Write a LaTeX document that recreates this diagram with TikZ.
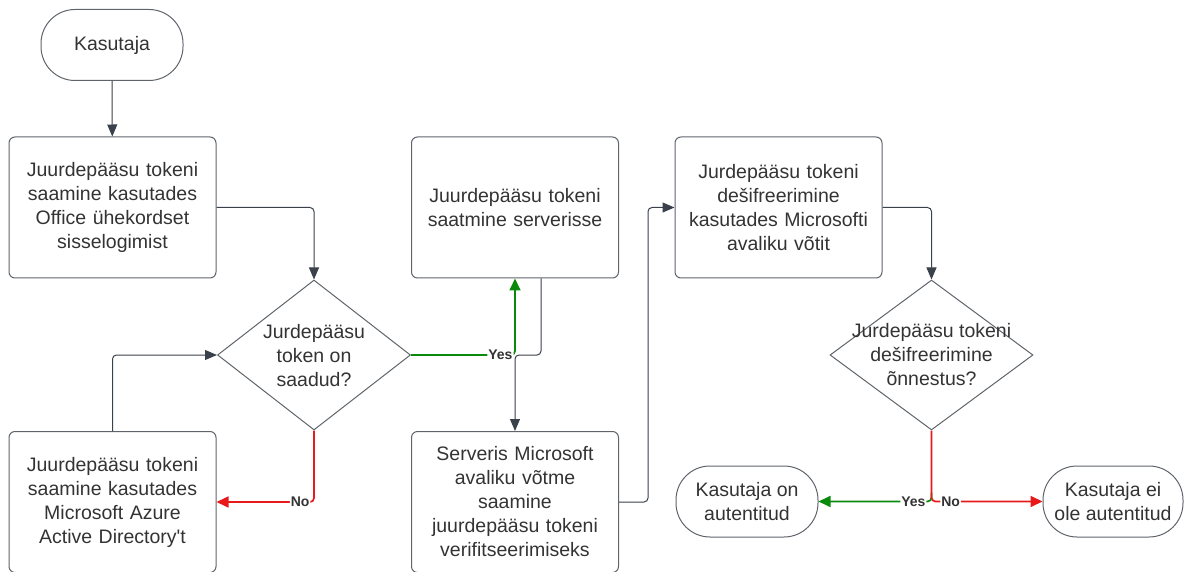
\documentclass[tikz,border=0pt]{standalone}
\usepackage{fontspec}
\setmainfont{Liberation Sans}
\usetikzlibrary{shapes.geometric,arrows.meta}
\definecolor{linegray}{HTML}{3A414A}
\definecolor{boxgray}{HTML}{5F646B}
\definecolor{yesgreen}{HTML}{0A8A0A}
\definecolor{nored}{HTML}{E8191B}
\definecolor{txtgray}{HTML}{333333}

\begin{document}
\begin{tikzpicture} [x=1pt,y=-1pt,
    every node/.style={font=\fontsize{19.5}{24}\selectfont,text=txtgray},
    stepbox/.style={draw=boxgray,line width=1pt,rounded corners=6pt,minimum width=207,minimum height=141,text width=200,align=center,inner sep=0pt},
    terminal/.style={draw=boxgray,line width=1pt,rounded corners=34pt,minimum width=142,minimum height=71,align=center,inner sep=0pt},
    decision/.style={draw=boxgray,line width=1pt,diamond,minimum width=193,minimum height=150,inner sep=0pt},
    flow/.style={draw=linegray,line width=1pt,rounded corners=4pt,-{Triangle[length=12pt,width=10pt]}},
    yesflow/.style={flow,draw=yesgreen,line width=1.7pt,-{Triangle[length=12pt,width=11pt]}},
    noflow/.style={flow,draw=nored,line width=1.7pt,-{Triangle[length=12pt,width=11pt]}},
    lbl/.style={fill=white,inner sep=1pt,text=txtgray,font=\bfseries\fontsize{14}{14}\selectfont}]
  \useasboundingbox (0,0) rectangle (1184,572);

  % left column
  \node [terminal] (user) at (112,45) {Kasutaja};
  \node [stepbox] (login) at (112.5,207.5) {Juurdepääsu tokeni\\saamine kasutades\\Office ühekordset\\sisselogimist};
  \node [decision] (token) at (314,355) {};
  \node [align=center] (tokentxt) at (314,356) {Jurdepääsu\\token on\\saadud?};
  \node [stepbox] (azure) at (112.5,502) {Juurdepääsu tokeni\\saamine kasutades\\Microsoft Azure\\Active Directory\textquotesingle t};

  % middle column
  \node [stepbox] (send) at (515,207.5) {Juurdepääsu tokeni\\saatmine serverisse};
  \node [stepbox] (verify) at (515,502) {Serveris Microsoft\\avaliku võtme\\saamine\\juurdepääsu tokeni\\verifitseerimiseks};

  % right column
  \node [stepbox] (decrypt) at (778.5,207.5) {Jurdepääsu tokeni\\dešifreerimine\\kasutades Microsofti\\avaliku võtit};
  \node [decision,minimum width=203] (success) at (931.5,355) {};
  \node [align=center] (successtxt) at (931.5,355) {Jurdepääsu tokeni\\dešifreerimine\\õnnestus?};
  \node [terminal] (authok) at (747,501.5) {Kasutaja on\\autentitud};
  \node [terminal,minimum width=140] (authfail) at (1113,501.5) {Kasutaja ei\\ole autentitud};

  \coordinate (split) at (515,355);
  \coordinate (fork) at ([yshift=-62pt]success.south);

  \draw [flow] (user) -- (login);
  \draw [flow] (login.east) -| (token.north);
  \draw [noflow] (token.south) |- (azure.east) node [lbl,pos=0.571] (no1) {No};
  \draw [flow] (azure.north) |- (token.west);
  \draw [yesflow] (token.east) -| (send.south) node [lbl,pos=0.43] (yes1) {Yes};
  \draw [flow] ([xshift=26pt]send.south) |- (split) -- (verify.north);
  \draw [flow] (verify.east) -- ++(29,0) |- (decrypt.west);
  \draw [flow] (decrypt.east) -| (success.north);
  \draw [yesflow] (fork) |- (authok.east) node [lbl,pos=0.58] (yes2) {Yes};
  \draw [noflow] (success.south) |- (authfail.west) node [lbl,pos=0.586] (no2) {No};

\end{tikzpicture}
\end{document}
